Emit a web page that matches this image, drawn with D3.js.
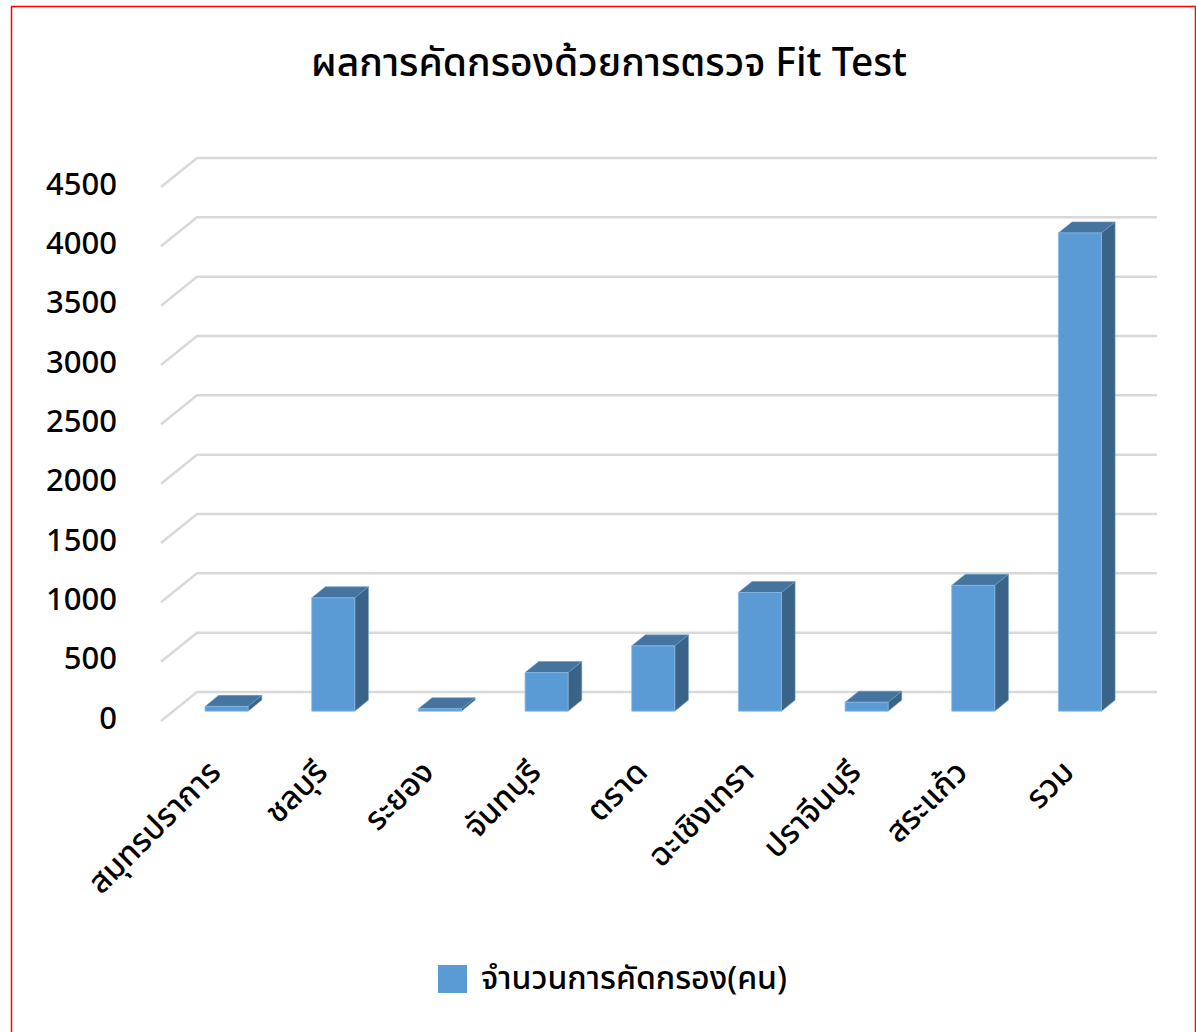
<!DOCTYPE html>
<html lang="th">
<head>
<meta charset="UTF-8">
<title>Fit Test</title>
<style>
  body { margin: 0; background: #fff; }
  text { font-family: "Noto Sans Thai", "Leelawadee UI", Tahoma, "Noto Sans", "DejaVu Sans", sans-serif; fill: #000; font-weight: 500; }
</style>
</head>
<body>
<svg id="chart" width="1196" height="1032"></svg>
<script src="https://d3js.org/d3.v7.min.js"></script>
<script>
// ข้อมูลจากกราฟ
var provinces = ["สมุทรปราการ", "ชลบุรี", "ระยอง", "จันทบุรี", "ตราด", "ฉะเชิงเทรา", "ปราจีนบุรี", "สระแก้ว", "รวม"];
var screened = [40, 955, 20, 325, 550, 1000, 75, 1060, 4030];
var yTicks = [0, 500, 1000, 1500, 2000, 2500, 3000, 3500, 4000, 4500];
var seriesName = "จำนวนการคัดกรอง(คน)";
var title = "ผลการคัดกรองด้วยการตรวจ Fit Test";

var svg = d3.select("#chart");

// กรอบสีแดง
svg.append("rect")
  .attr("x", 11.5).attr("y", 6.5)
  .attr("width", 1184).attr("height", 1040)
  .attr("fill", "none").attr("stroke", "#ff0000").attr("stroke-width", 1.5);

// ระนาบด้านหน้า กับความลึก 3 มิติ
var DX = 36, DY = 29;
var x = d3.scaleBand().domain(provinces).range([161, 1121]).paddingInner(0).paddingOuter(0);
var y = d3.scaleLinear().domain([0, 4500]).range([721, 187]);
function proj(px, py, d) { return [px + d * DX, py - d * DY]; }

// เส้นกริด (ผนังด้านหลัง + เส้นทแยงด้านซ้าย)
var grid = svg.append("g");
yTicks.forEach(function(t) {
  var f = proj(x.range()[0], y(t), 0);
  var b = proj(x.range()[0], y(t), 1);
  var e = proj(x.range()[1], y(t), 1);
  grid.append("polyline")
    .attr("points", [f, b, e].map(function(p) { return p.join(","); }).join(" "))
    .attr("fill", "none").attr("stroke", "#d9d9d9").attr("stroke-width", 2.5);
});

// ป้ายแกน y
svg.append("g").selectAll("text").data(yTicks).enter().append("text")
  .attr("x", 117).attr("y", function(d) { return y(d) - 1; })
  .attr("text-anchor", "end").attr("dominant-baseline", "middle")
  .attr("font-size", 31).text(function(d) { return d; });

// แท่ง 3 มิติ
var d0 = 0.34, d1 = 0.72;
var bw = 43;
var bars = svg.append("g").selectAll("g").data(provinces).enter().append("g");
function pts(arr) { return arr.map(function(p) { return p.join(","); }).join(" "); }
bars.each(function(p, i) {
  var g = d3.select(this);
  var x0 = x(p) + (x.bandwidth() - bw) / 2;
  var x1 = x0 + bw;
  var yb = y(0), yt = y(screened[i]);
  var fbl = proj(x0, yb, d0), fbr = proj(x1, yb, d0), ftl = proj(x0, yt, d0), ftr = proj(x1, yt, d0);
  var btl = proj(x0, yt, d1), btr = proj(x1, yt, d1), bbr = proj(x1, yb, d1);
  // ด้านข้าง
  g.append("polygon").attr("points", pts([fbr, ftr, btr, bbr]))
    .attr("fill", "#396387").attr("stroke", "#6a9bc9").attr("stroke-width", 0.6);
  // ด้านบน
  g.append("polygon").attr("points", pts([ftl, ftr, btr, btl]))
    .attr("fill", "#45749f").attr("stroke", "#6a9bc9").attr("stroke-width", 0.6);
  // ด้านหน้า
  g.append("polygon").attr("points", pts([fbl, fbr, ftr, ftl]))
    .attr("fill", "#5b9bd5").attr("stroke", "#8ab8e2").attr("stroke-width", 0.8);
});

// ป้ายแกน x (หมุน -45)
svg.append("g").selectAll("text").data(provinces).enter().append("text")
  .attr("transform", function(p) {
    var c = proj(x(p) + x.bandwidth() / 2, 0, d0)[0];
    return "translate(" + (c - 4) + ",774) rotate(-45)";
  })
  .attr("text-anchor", "end")
  .attr("font-size", 32).text(function(p) { return p; });

// ชื่อกราฟ
svg.append("text")
  .attr("x", 609).attr("y", 76)
  .attr("text-anchor", "middle").attr("font-size", 39)
  .text(title);

// คำอธิบาย
svg.append("rect").attr("x", 438).attr("y", 965).attr("width", 29).attr("height", 28).attr("fill", "#5b9bd5");
svg.append("text").attr("x", 481).attr("y", 989).attr("font-size", 32).text(seriesName);
</script>
</body>
</html>
